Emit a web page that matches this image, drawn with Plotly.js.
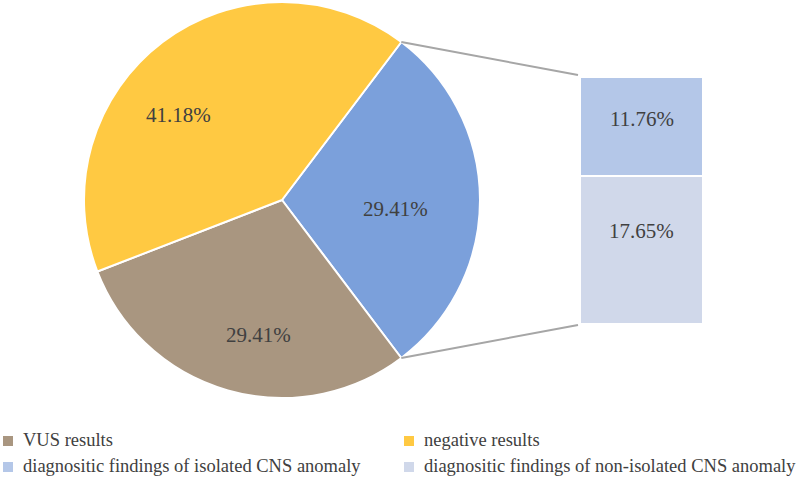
<!DOCTYPE html>
<html>
<head>
<meta charset="utf-8">
<script src="https://cdn.plot.ly/plotly-3.0.1.min.js"></script>
<style>html,body{margin:0;padding:0;background:#fff;}#chart{width:800px;height:482px;}</style>
</head>
<body>
<div id="chart"></div>
<script>
// Data
const pieLabels = ["diagnositic findings", "VUS results", "negative results"];
const pieValues = [29.41, 29.41, 41.18];
const pieColors = ["#7BA0DB", "#A99680", "#FFC942"];
const barLabels = ["diagnositic findings of non-isolated CNS anomaly", "diagnositic findings of isolated CNS anomaly"];
const barValues = [17.65, 11.76];
const barColors = ["#D0D8EA", "#B4C7E8"];
const legendLabels = ["VUS results", "negative results", "diagnositic findings of isolated CNS anomaly", "diagnositic findings of non-isolated CNS anomaly"];
const legendColors = ["#A99680", "#FFC942", "#B4C7E8", "#D0D8EA"];

const W = 800, H = 482;
const px = x => x / W;
const py = y => 1 - y / H;
const FONT = "Liberation Serif";
const TXT = "#404040";

// pie geometry (pixels)
const cx = 282, cy = 200, R = 198;
const total = pieValues.reduce((a, b) => a + b, 0);
const halfAng = pieValues[0] / total * 180;
const rotation = 90 - halfAng;

// bar geometry (pixels)
const bx0 = 580, bx1 = 703, byTop = 77, byBot = 324;
const barTotal = barValues.reduce((a, b) => a + b, 0);

const traces = [
  {
    type: "pie",
    labels: pieLabels,
    values: pieValues,
    sort: false,
    direction: "clockwise",
    rotation: rotation,
    marker: { colors: pieColors, line: { color: "#ffffff", width: 2 } },
    textinfo: "none",
    hoverinfo: "none",
    showlegend: false,
    domain: { x: [px(cx - R), px(cx + R)], y: [py(cy + R), py(cy - R)] }
  }
];
barValues.forEach((v, i) => {
  traces.push({
    type: "bar",
    x: [0],
    y: [v],
    width: [1],
    marker: { color: barColors[i], line: { color: "#ffffff", width: 2 } },
    xaxis: "x",
    yaxis: "y",
    hoverinfo: "none",
    showlegend: false
  });
});

const deg = Math.PI / 180;
const a1 = rotation * deg, a2 = (rotation + 2 * halfAng) * deg;
const p1 = [cx + R * Math.sin(a1), cy - R * Math.cos(a1)];
const p2 = [cx + R * Math.sin(a2), cy - R * Math.cos(a2)];

const shapes = [
  { type: "line", xref: "paper", yref: "paper", x0: px(p1[0]), y0: py(p1[1]), x1: px(bx0 - 2), y1: py(byTop - 2), line: { color: "#A6A6A6", width: 2 } },
  { type: "line", xref: "paper", yref: "paper", x0: px(p2[0]), y0: py(p2[1]), x1: px(bx0 - 2), y1: py(byBot + 1), line: { color: "#A6A6A6", width: 2 } }
];

const annotations = [];
// pie labels
const pieLabelPos = [[395, 209], [258, 335], [178, 115]];
pieValues.forEach((v, i) => {
  annotations.push({
    xref: "paper", yref: "paper", x: px(pieLabelPos[i][0]), y: py(pieLabelPos[i][1]),
    text: v.toFixed(2) + "%", showarrow: false, xanchor: "center", yanchor: "middle",
    font: { family: FONT, size: 21, color: TXT }
  });
});
// bar labels
annotations.push({ xref: "x", yref: "y", x: 0, y: barValues[0] * 0.63, text: barValues[0].toFixed(2) + "%", showarrow: false, font: { family: FONT, size: 21, color: TXT } });
annotations.push({ xref: "x", yref: "y", x: 0, y: barValues[0] + barValues[1] * 0.57, text: barValues[1].toFixed(2) + "%", showarrow: false, font: { family: FONT, size: 21, color: TXT } });

// custom legend
const legPos = [[3, 441], [404, 441], [3, 467], [404, 467]];
legendLabels.forEach((lab, i) => {
  const [lx, ly] = legPos[i];
  shapes.push({ type: "rect", xref: "paper", yref: "paper", x0: px(lx), x1: px(lx + 10), y0: py(ly - 5), y1: py(ly + 5), fillcolor: legendColors[i], line: { width: 0 } });
  annotations.push({ xref: "paper", yref: "paper", x: px(lx + 18), y: py(ly - 1), xanchor: "left", yanchor: "middle", text: lab, showarrow: false, font: { family: FONT, size: 18.5, color: TXT } });
});

const layout = {
  width: W, height: H,
  margin: { l: 0, r: 0, t: 0, b: 0 },
  font: { family: FONT, color: TXT },
  paper_bgcolor: "#ffffff", plot_bgcolor: "rgba(0,0,0,0)",
  barmode: "stack",
  bargap: 0,
  showlegend: false,
  xaxis: { domain: [px(bx0), px(bx1)], range: [-0.5, 0.5], visible: false, fixedrange: true },
  yaxis: { domain: [py(byBot), py(byTop)], range: [0, barTotal], visible: false, fixedrange: true },
  shapes: shapes,
  annotations: annotations
};

Plotly.newPlot("chart", traces, layout, { displayModeBar: false, staticPlot: true });
</script>
</body>
</html>
